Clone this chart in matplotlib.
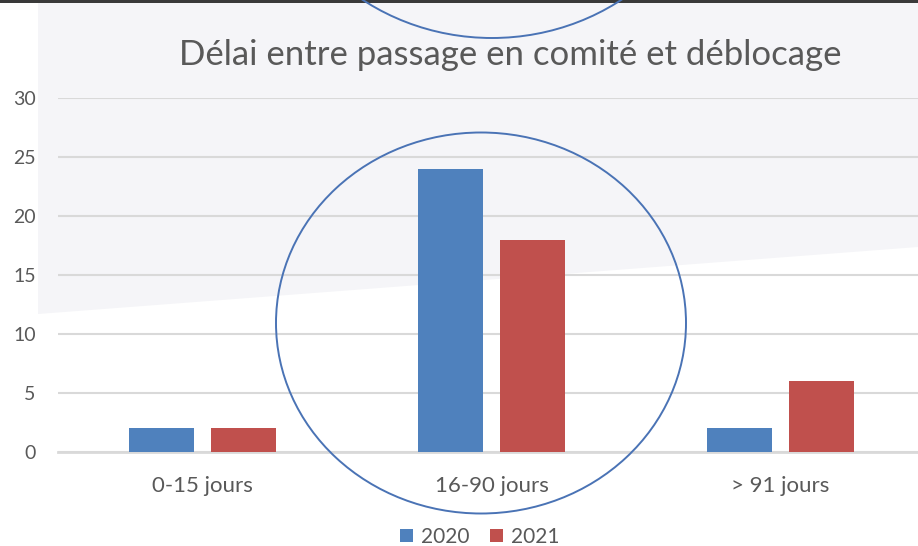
#!/usr/bin/env python3
"""Grouped bar chart: délai entre passage en comité et déblocage (2020 vs 2021)."""

import matplotlib
matplotlib.use("Agg")
import matplotlib.pyplot as plt
import numpy as np
from matplotlib.patches import Ellipse, Polygon, Rectangle

categories = ["0-15 jours", "16-90 jours", "> 91 jours"]
series_names = ["2020", "2021"]
values_2020 = [2, 24, 2]
values_2021 = [2, 18, 6]
y_ticks = [0, 5, 10, 15, 20, 25, 30]
title = "Délai entre passage en comité et déblocage"

BLUE = "#4f81bd"
RED = "#c0504d"
TEXT = "#595959"
GRID = "#d9d9d9"
CIRCLE = "#4a73b5"

plt.rcParams["font.family"] = ["Lato", "DejaVu Sans"]

W, H = 918, 546
fig = plt.figure(figsize=(W / 100, H / 100), dpi=100)
fig.patch.set_facecolor("white")

# background layer in pixel coordinates (screenshot decorations)
bg = fig.add_axes([0, 0, 1, 1], zorder=0)
bg.set_xlim(0, W)
bg.set_ylim(H, 0)
bg.axis("off")
bg.add_patch(Polygon([(38, 3), (W, 3), (W, 247), (38, 314)],
                     closed=True, facecolor="#f5f5f8", edgecolor="none"))
bg.add_patch(Rectangle((0, 0), W, 3, facecolor="#3a3a3a", edgecolor="none"))

# main chart
ax_left, ax_right = 58, 918
ax_top, ax_bottom = 98, 452
ax = fig.add_axes([ax_left / W, 1 - ax_bottom / H,
                   (ax_right - ax_left) / W, (ax_bottom - ax_top) / H], zorder=1)
ax.patch.set_alpha(0)

x = np.arange(len(categories))
bar_w = 0.225
offset = 0.143
ax.bar(x - offset, values_2020, bar_w, color=BLUE, label=series_names[0], zorder=3)
ax.bar(x + offset, values_2021, bar_w, color=RED, label=series_names[1], zorder=3)

ax.set_xlim(-0.5, 2.476)
ax.set_ylim(0, 30)
ax.set_yticks(y_ticks)
ax.set_xticks(x)
ax.set_xticklabels(categories)
ax.tick_params(axis="both", length=0, colors=TEXT)
ax.tick_params(axis="y", pad=16, labelsize=14)
ax.tick_params(axis="x", pad=17, labelsize=16)
ax.grid(axis="y", color=GRID, linewidth=1.5, zorder=0)
for side in ["top", "right", "left"]:
    ax.spines[side].set_visible(False)
ax.spines["bottom"].set_color(GRID)
ax.spines["bottom"].set_linewidth(2)

fig.text(510 / W, 1 - 55 / H, title, ha="center", va="center",
         fontsize=25, color=TEXT)

fig.legend(loc="center", bbox_to_anchor=(480 / W, 1 - 537 / H), ncol=2,
           frameon=False, fontsize=15, labelcolor=TEXT,
           handlelength=0.6, handleheight=0.6, handletextpad=0.4,
           columnspacing=1.0)

# hand-drawn highlight circles on top
ov = fig.add_axes([0, 0, 1, 1], zorder=2)
ov.set_xlim(0, W)
ov.set_ylim(H, 0)
ov.axis("off")
ov.add_patch(Ellipse((481, 323), 410, 381, fill=False,
                     edgecolor=CIRCLE, linewidth=1.4))
ov.add_patch(Ellipse((492, -172), 450, 420, fill=False,
                     edgecolor=CIRCLE, linewidth=1.4))

fig.savefig("out.png", dpi=100)
